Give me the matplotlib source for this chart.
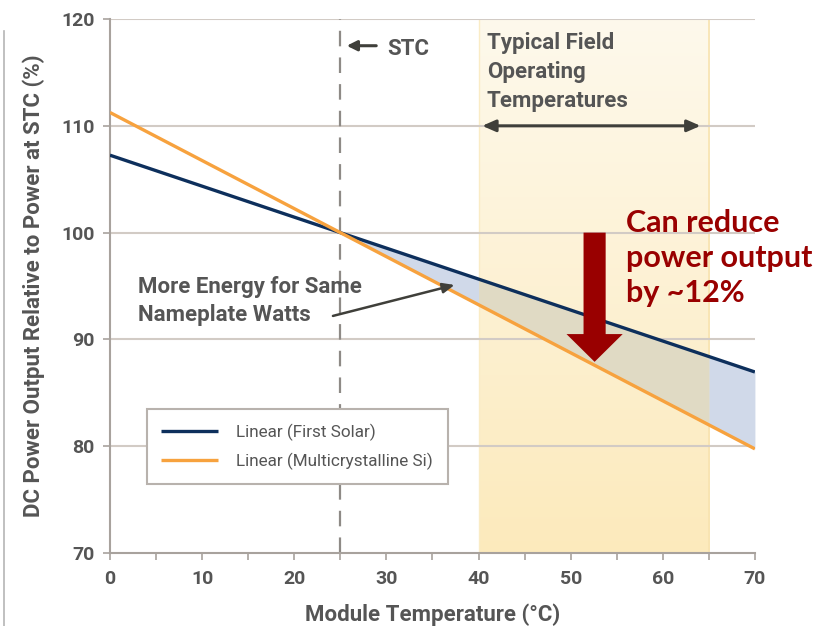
import numpy as np
import matplotlib
matplotlib.use("Agg")
import matplotlib.pyplot as plt
from matplotlib.lines import Line2D
from matplotlib.patches import FancyArrow

# --- data -------------------------------------------------------------
temps = [0, 25, 70]                      # module temperature (°C)
first_solar = [107.25, 100.0, 86.95]     # -0.29 %/°C
multi_si = [111.25, 100.0, 79.75]        # -0.45 %/°C
stc_temp = 25
field_range = [40, 65]
x_ticks = [0, 10, 20, 30, 40, 50, 60, 70]
y_ticks = [70, 80, 90, 100, 110, 120]
reduce_arrow = [52.6, 100.0, 87.9]       # x, from, to

FONT = "Roboto"
GREY = "#555555"
NAVY = "#0d2f5c"
ORANGE = "#f7a23e"
RED = "#990000"
GAP_BLUE = "#d0d9e9"
GAP_IN_BAND = "#e0dac4"

fig = plt.figure(figsize=(8.17, 6.26), dpi=100)
ax = fig.add_axes([0.1346, 0.1166, 0.7894, 0.853])

# field-temperature band with vertical gradient (pale at top)
grad = np.linspace(0, 1, 256)[:, None, None]
bot = np.array([252, 234, 188]) / 255
top = np.array([254, 249, 236]) / 255
img = bot + (top - bot) * grad
ax.imshow(img, extent=[field_range[0], field_range[1], 70, 120], aspect="auto",
          origin="lower", zorder=0.5)
ax.axvline(field_range[0], color="#faecc6", lw=1.0, zorder=0.6)
ax.axvline(field_range[1], color="#f8e3b0", lw=1.2, zorder=0.6)
ax.set_xlim(0, 70)
ax.set_ylim(70, 120)

# gridlines
for y in y_ticks[1:]:
    ax.axhline(y, color="#d2cbc5", lw=1.5, zorder=1)

# region between the two trends above STC (tinted where it meets the band)
def gap(x0, x1, color):
    xf = np.linspace(x0, x1, 40)
    ax.fill_between(xf, np.interp(xf, temps, multi_si),
                    np.interp(xf, temps, first_solar), color=color, lw=0,
                    zorder=1.5)

gap(stc_temp, field_range[0], GAP_BLUE)
gap(field_range[0], field_range[1], GAP_IN_BAND)
gap(field_range[1], temps[-1], GAP_BLUE)

# STC marker line
ax.axvline(stc_temp, color="#8e8a86", lw=1.6, ls=(0, (7, 5)), zorder=1.2)

ax.plot(temps, first_solar, color=NAVY, lw=2.4, zorder=3,
        solid_capstyle="butt", label="Linear (First Solar)")
ax.plot(temps, multi_si, color=ORANGE, lw=2.4, zorder=3,
        solid_capstyle="butt", label="Linear (Multicrystalline Si)")

# axes styling
for s in ["top", "right"]:
    ax.spines[s].set_visible(False)
for s in ["left", "bottom"]:
    ax.spines[s].set_color("#a8a29d")
    ax.spines[s].set_linewidth(1.5)
ax.set_xticks(x_ticks)
ax.set_xticks(np.arange(5, 70, 10), minor=True)
ax.set_yticks(y_ticks)
ax.tick_params(axis="both", colors="#a8a29d", labelcolor=GREY, width=1.2,
               length=5)
ax.tick_params(axis="x", which="minor", colors="#a8a29d", width=1.2, length=5)
ax.tick_params(axis="y", pad=6)
ax.tick_params(axis="x", pad=7)
for lab in ax.get_xticklabels() + ax.get_yticklabels():
    lab.set_fontfamily(FONT)
    lab.set_fontweight("bold")
    lab.set_fontsize(14)

ax.set_xlabel("Module Temperature (°C)", fontfamily=FONT, fontweight="bold",
              fontsize=16, color=GREY, labelpad=11)
ax.set_ylabel("DC Power Output Relative to Power at STC (%)", fontfamily=FONT,
              fontweight="bold", fontsize=16, color=GREY, labelpad=12)

# legend
leg = ax.legend(loc="lower left", bbox_to_anchor=(0.057, 0.129), frameon=True,
                fancybox=False, edgecolor="#b8b2ad", framealpha=1,
                prop={"family": FONT, "size": 12.3}, handlelength=3.3,
                handletextpad=1.1, borderpad=0.85, labelspacing=0.65,
                borderaxespad=0)
leg.get_frame().set_linewidth(1.5)
for t in leg.get_texts():
    t.set_color(GREY)
leg.set_zorder(4)

# STC label
ax.annotate("", xy=(25.7, 117.5), xytext=(28.9, 117.5),
            arrowprops=dict(arrowstyle="-|>,head_length=0.6,head_width=0.3",
                            color="#3f3f3a", lw=2.2, shrinkA=0, shrinkB=0))
ax.text(30.1, 117.2, "STC", fontfamily=FONT, fontweight="bold", fontsize=16,
        color=GREY, va="center", ha="left")

# field operating temperature label and range arrow
ax.text(40.9, 118.8, "Typical Field\nOperating\nTemperatures", fontfamily=FONT,
        fontweight="bold", fontsize=16, color=GREY, va="top", ha="left",
        linespacing=1.42)
ax.annotate("", xy=(40.4, 110), xytext=(64.1, 110),
            arrowprops=dict(arrowstyle="<|-|>,head_length=0.8,head_width=0.35",
                            color="#3f3f3a", lw=2.2, shrinkA=0, shrinkB=0))

# energy-gain callout
ax.text(3.0, 93.6, "More Energy for Same\nNameplate Watts", fontfamily=FONT,
        fontweight="bold", fontsize=16, color=GREY, va="center", ha="left",
        linespacing=1.35)
ax.annotate("", xy=(37.4, 95.1), xytext=(24.2, 92.2),
            arrowprops=dict(arrowstyle="-|>,head_length=0.7,head_width=0.3",
                            color="#3f3f3a", lw=1.8, shrinkA=0, shrinkB=0))

# power reduction arrow and note
rx, ry0, ry1 = reduce_arrow
ax.add_patch(FancyArrow(rx, ry0, 0, ry1 - ry0, width=2.4, head_width=6.1,
                        head_length=2.6, length_includes_head=True,
                        color=RED, lw=0, zorder=5))
ax.text(56.0, 97.6, "Can reduce\npower output\nby ~12%", fontfamily="Lato",
        fontweight="bold", fontsize=22, color=RED, va="center", ha="left",
        linespacing=1.3, clip_on=False, zorder=6)

# frame rule on the left edge
fig.add_artist(Line2D([0.005, 0.005], [0.0, 0.95], transform=fig.transFigure,
                      color="#b5b5b5", lw=1.2))

fig.savefig("out.png", dpi=100)
